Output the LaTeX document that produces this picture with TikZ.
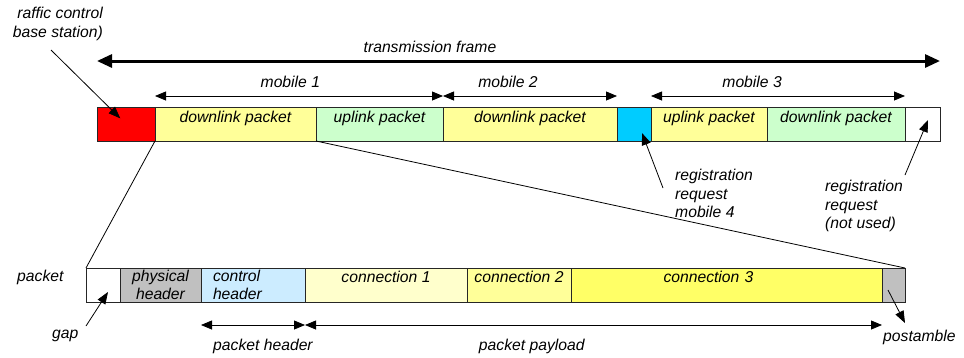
\documentclass[tikz,border=0pt]{standalone}
\usepackage{fontspec}
\setmainfont{Liberation Sans}
\usetikzlibrary{arrows.meta, positioning}
\definecolor{SlotRed}{HTML}{FF0000}
\definecolor{SlotYellow}{HTML}{FFFF99}
\definecolor{SlotGreen}{HTML}{CCFFCC}
\definecolor{SlotCyan}{HTML}{00CCFF}
\definecolor{SlotGray}{HTML}{C0C0C0}
\definecolor{SlotBlue}{HTML}{CCECFF}
\definecolor{ConnPale}{HTML}{FFFFCC}
\definecolor{ConnMid}{HTML}{FFFF99}
\definecolor{ConnBright}{HTML}{FFFF66}
\newcommand{\slotfont}{\fontsize{15.7}{18.5}\selectfont\itshape}
\tikzset{
    % frame slots (top row)
    slot/.style={
        rectangle,
        draw=black!85,
        line width=0.8pt,
        inner sep=0pt,
        outer sep=0pt,
        minimum height=34pt,
        text height=11.5pt,
        text depth=15.5pt,
        font=\slotfont
    },
    % packet fields (bottom row)
    field/.style={
        rectangle,
        draw=black!85,
        line width=0.8pt,
        inner sep=0pt,
        outer sep=0pt,
        minimum height=34pt,
        align=center,
        font=\slotfont
    },
    field single/.style={
        field,
        text height=12pt,
        text depth=18pt
    },
    note/.style={
        inner sep=0pt,
        font=\slotfont
    },
    span arrow/.style={
        {Triangle[length=11pt,width=9pt]}-{Triangle[length=11pt,width=9pt]},
        line width=0.8pt
    },
    frame arrow/.style={
        {Triangle[length=15pt,width=13pt]}-{Triangle[length=15pt,width=13pt]},
        line width=3pt
    },
    callout/.style={
        -{Triangle[length=12pt,width=9pt]},
        line width=0.8pt
    }
}

\begin{document}
\begin{tikzpicture}[x=1pt, y=-1pt]
        \useasboundingbox (0,0) rectangle (964,357);

        % Transmission frame
        \node[slot, fill=SlotRed, minimum width=58pt, anchor=north west] (red) at (97,107) {};
        \node[slot, fill=SlotYellow, minimum width=161pt, right=0pt of red] (dl1) {downlink packet};
        \node[slot, fill=SlotGreen, minimum width=127pt, right=0pt of dl1] (ul1) {uplink packet};
        \node[slot, fill=SlotYellow, minimum width=174pt, right=0pt of ul1] (dl2) {downlink packet};
        \node[slot, fill=SlotCyan, minimum width=34pt, right=0pt of dl2] (reg) {};
        \node[slot, fill=SlotYellow, minimum width=116pt, right=0pt of reg] (ul3) {uplink packet};
        \node[slot, fill=SlotGreen, minimum width=138pt, right=0pt of ul3] (dl3) {downlink packet};
        \node[slot, fill=white, minimum width=35pt, right=0pt of dl3] (unused) {};

        % Packet
        \node[field, fill=white, minimum width=34pt, anchor=north west] (gap) at (86,268) {};
        \node[field, fill=SlotGray, minimum width=81pt, right=0pt of gap] (phys) {physical\\header};
        \node[field, fill=SlotBlue, minimum width=104pt, text width=80pt, align=left, right=0pt of phys] (ctrl) {control\\header};
        \node[field single, fill=ConnPale, minimum width=162pt, right=0pt of ctrl] (conn1) {connection 1};
        \node[field single, fill=ConnMid, minimum width=104pt, right=0pt of conn1] (conn2) {connection 2};
        \node[field single, fill=ConnBright, minimum width=311pt, text width=126pt, align=left, right=0pt of conn2] (conn3) {connection 3};
        \node[field, fill=SlotGray, minimum width=23pt, right=0pt of conn3] (post) {};

        % Zoom lines
        \draw[line width=0.8pt] (dl1.south west) -- (gap.north west);
        \draw[line width=0.8pt] (dl1.south east) -- (post.north east);

        % Spans
        \draw[frame arrow] ([yshift=46pt]red.north west) -- node[note, above=7pt, pos=0.395] {transmission frame} ([yshift=46pt]unused.north east);
        \draw[span arrow] ([yshift=11pt]dl1.north west) -- node[note, above=8pt, pos=0.47] {mobile 1} ([yshift=11pt]ul1.north east);
        \draw[span arrow] ([yshift=11pt]dl2.north west) -- node[note, above=8pt, pos=0.374] {mobile 2} ([yshift=11pt]dl2.north east);
        \draw[span arrow] ([yshift=11pt]ul3.north west) -- node[note, above=8pt, pos=0.398] {mobile 3} ([yshift=11pt]dl3.north east);
        \draw[span arrow] ([yshift=-23pt]ctrl.south west) -- node[note, below=13.5pt, pos=0.596] {packet header} ([yshift=-23pt]ctrl.south east);
        \draw[span arrow] ([yshift=-23pt]conn1.south west) -- node[note, below=13.5pt, pos=0.393] {packet payload} ([yshift=-23pt]conn3.south east);

        % Notes
        \node[note, align=right, anchor=north east] (bs) at (103,7) {raffic control\\base station)};
        \node[note, align=left, anchor=north west] (req4) at (675,169) {registration\\request\\mobile 4};
        \node[note, align=left, anchor=north west] (reqnone) at (825,180) {registration\\request\\(not used)};
        \node[note, anchor=base west] (pkt) at (17,281) {packet};
        \node[note, anchor=base west] (gaplbl) at (52,338) {gap};
        \node[note, anchor=base west] (postlbl) at (883,341) {postamble};

        % Callouts
        \coordinate (bs tail) at (51,50);
        \coordinate (req4 tail) at (663,188);
        \coordinate (reqnone tail) at (905,175);
        \coordinate (gap tail) at (86,326);
        \coordinate (post tip) at (905,323);
        \draw[callout, shorten >=8pt] (bs tail) -- (red.center);
        \draw[callout] (req4 tail) -- ([shift={(-9pt,8pt)}]reg.south east);
        \draw[callout] (reqnone tail) -- ([shift={(-12pt,-13pt)}]unused.north east);
        \draw[callout] (gap tail) -- ([shift={(-12pt,10pt)}]gap.south east);
        \draw[callout] ([shift={(6pt,12pt)}]post.south west) -- (post tip);
    \end{tikzpicture}
\end{document}
